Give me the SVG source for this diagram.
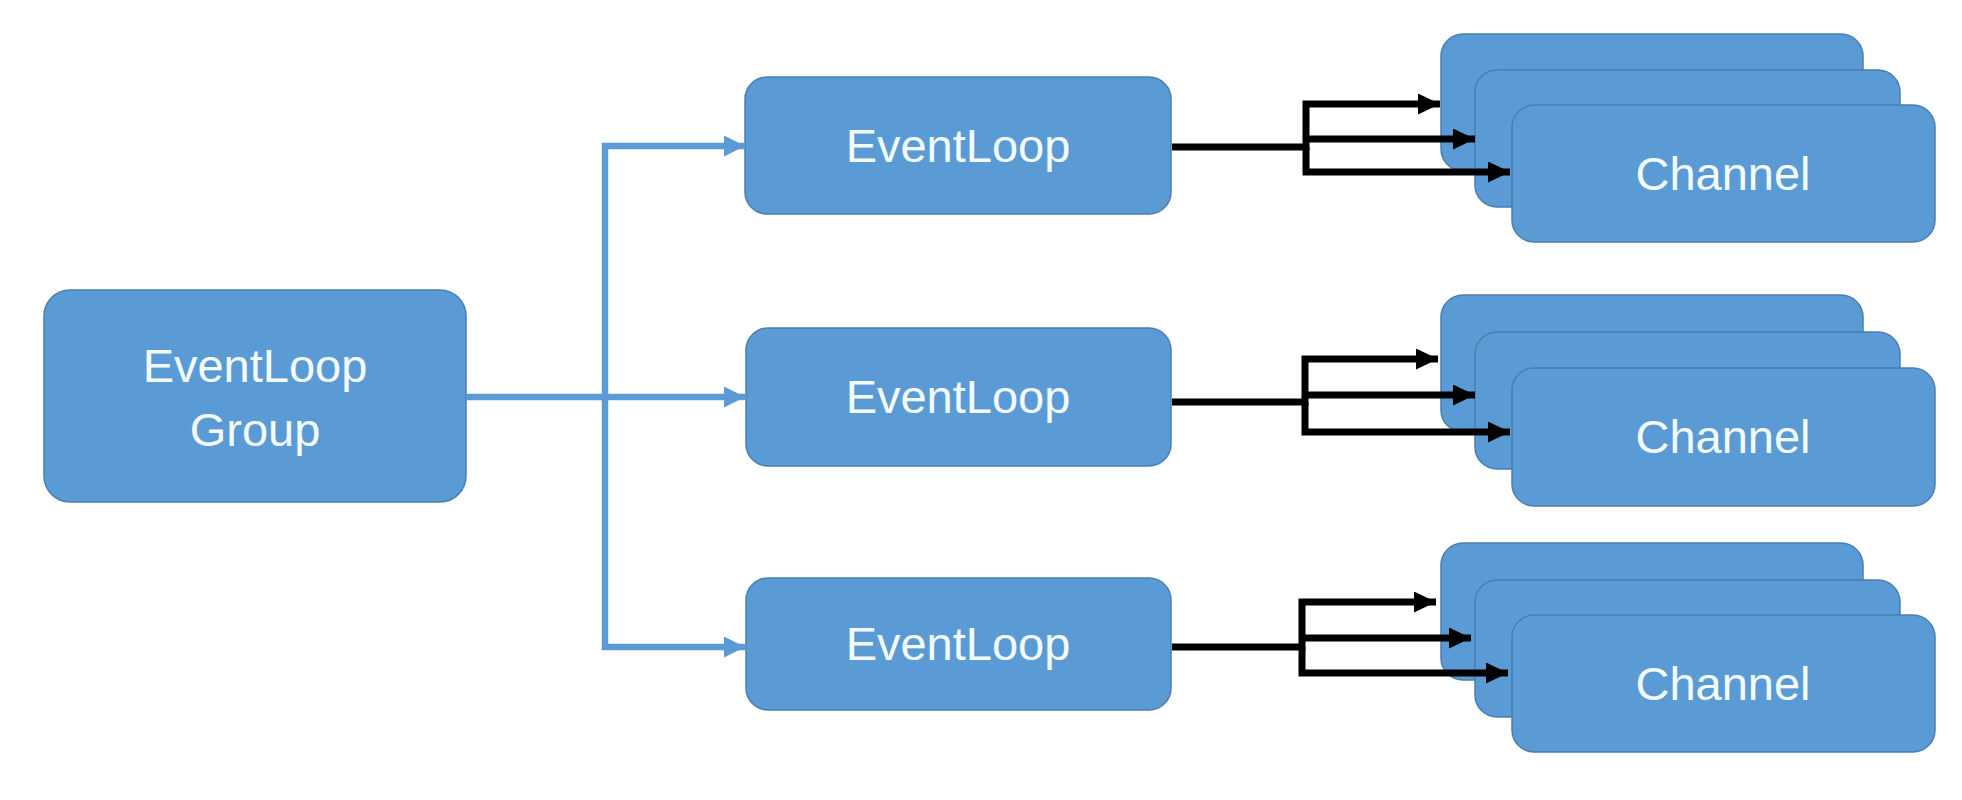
<svg xmlns="http://www.w3.org/2000/svg" width="1962" height="800" viewBox="0 0 1962 800">
<style>
.box{fill:#5b9bd5;stroke:#4a7fb0;stroke-width:1.5}
.lbl{font-family:"Liberation Sans",Arial,sans-serif;font-size:47px;fill:#f4fbff;text-anchor:middle}
.blue{fill:none;stroke:#5b9bd5;stroke-width:6.5}
.black{fill:none;stroke:#000;stroke-width:7}
</style>
<defs>
<marker id="hb" markerUnits="userSpaceOnUse" markerWidth="21" markerHeight="21" refX="21" refY="10.5" orient="auto"><path d="M0,0 L21,10.5 L0,21 z" fill="#5b9bd5"/></marker>
<marker id="hk" markerUnits="userSpaceOnUse" markerWidth="22" markerHeight="21" refX="22" refY="10.5" orient="auto"><path d="M0,0 L22,10.5 L0,21 z" fill="#000"/></marker>
</defs>
<rect width="1962" height="800" fill="#fff"/>
<g id="group">
<rect class="box" x="44" y="290" width="422" height="212" rx="26"/>
<text class="lbl" x="255" y="382">EventLoop</text>
<text class="lbl" x="255" y="446">Group</text>
</g>
<g id="eventloop1"><rect class="box" x="745" y="77" width="426" height="137" rx="22"/><text class="lbl" x="958" y="162">EventLoop</text></g>
<g id="eventloop2"><rect class="box" x="746" y="328" width="425" height="138" rx="22"/><text class="lbl" x="958" y="413">EventLoop</text></g>
<g id="eventloop3"><rect class="box" x="746" y="578" width="425" height="132" rx="22"/><text class="lbl" x="958" y="660">EventLoop</text></g>
<g id="channels1">
<rect class="box" x="1441" y="34" width="422" height="137" rx="22"/>
<rect class="box" x="1475" y="70" width="425" height="137" rx="22"/>
<rect class="box" x="1512" y="105" width="423" height="137" rx="22"/>
<text class="lbl" x="1723" y="190">Channel</text>
</g>
<g id="channels2">
<rect class="box" x="1441" y="295" width="422" height="137" rx="22"/>
<rect class="box" x="1475" y="332" width="425" height="137" rx="22"/>
<rect class="box" x="1512" y="368" width="423" height="138" rx="22"/>
<text class="lbl" x="1723" y="453">Channel</text>
</g>
<g id="channels3">
<rect class="box" x="1441" y="543" width="422" height="137" rx="22"/>
<rect class="box" x="1475" y="580" width="425" height="137" rx="22"/>
<rect class="box" x="1512" y="615" width="423" height="137" rx="22"/>
<text class="lbl" x="1723" y="700">Channel</text>
</g>
<g id="connectors">
<path class="blue" d="M466,397 H745" marker-end="url(#hb)"/>
<path class="blue" d="M605,397 V146 H745" marker-end="url(#hb)"/>
<path class="blue" d="M605,397 V647 H745" marker-end="url(#hb)"/>
<path class="black" d="M1172,147 H1306 V104 H1440" marker-end="url(#hk)"/>
<path class="black" d="M1306,139 H1475" marker-end="url(#hk)"/>
<path class="black" d="M1306,147 V172 H1510" marker-end="url(#hk)"/>
<path class="black" d="M1172,402 H1305 V359 H1438" marker-end="url(#hk)"/>
<path class="black" d="M1305,395 H1475" marker-end="url(#hk)"/>
<path class="black" d="M1305,402 V432 H1510" marker-end="url(#hk)"/>
<path class="black" d="M1172,647 H1302 V602 H1436" marker-end="url(#hk)"/>
<path class="black" d="M1302,638 H1471" marker-end="url(#hk)"/>
<path class="black" d="M1302,647 V673 H1508" marker-end="url(#hk)"/>
</g>
</svg>
